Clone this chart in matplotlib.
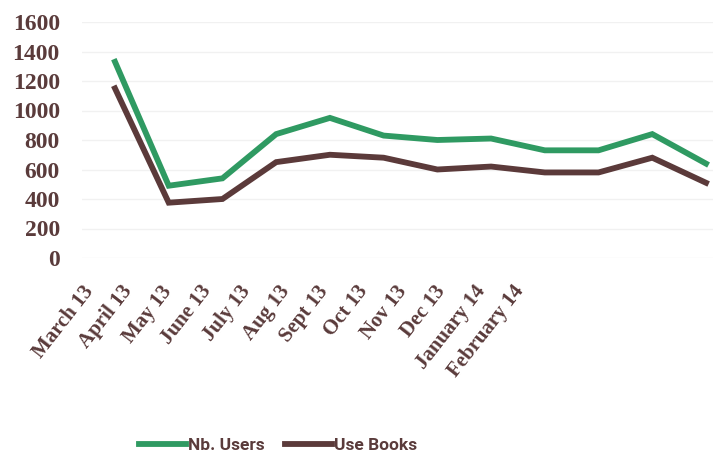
import matplotlib
matplotlib.use("Agg")
import matplotlib.pyplot as plt

months = ["March 13", "April 13", "May 13", "June 13", "July 13", "Aug 13",
          "Sept 13", "Oct 13", "Nov 13", "Dec 13", "January 14", "February 14"]
nb_users = [1330, 490, 540, 840, 950, 830, 800, 810, 730, 730, 840, 640]
use_books = [1150, 375, 400, 650, 700, 680, 600, 620, 580, 580, 680, 510]
yticks = [0, 200, 400, 600, 800, 1000, 1200, 1400, 1600]

TXT = "#5a3b3b"
GREEN = "#2f9a62"
BROWN = "#5b3a3a"

W, H = 713, 459
fig = plt.figure(figsize=(W / 100, H / 100), dpi=100)
L, R, T, B = 82, 713, 22, 258
ax = fig.add_axes([L / W, 1 - B / H, (R - L) / W, (B - T) / H])

x = list(range(len(months)))
ax.plot(x, nb_users, color=GREEN, lw=4.2, solid_joinstyle="miter", label="Nb. Users")
ax.plot(x, use_books, color=BROWN, lw=4.2, solid_joinstyle="miter", label="Use Books")

px = 53.73
ax.set_xlim(-(115 - L) / px, 11 + (R - 706) / px)
ax.set_ylim(0, 1600)
ax.set_yticks(yticks)
ax.set_yticklabels([str(v) for v in yticks], fontfamily="Liberation Serif",
                   fontweight="bold", fontsize=17, color=TXT)
ax.tick_params(axis="y", length=0, pad=16)
ax.yaxis.grid(True, color="#f1f1f1", lw=1)
ax.set_xticks([])
for s in ax.spines.values():
    s.set_visible(False)

# category labels on a twin axis (label positions are compressed in the reference)
ax2 = ax.twiny()
ax2.set_position(ax.get_position())
lpx = 39.4
x0 = 78
ax2.set_xlim((L - x0) / lpx, (R - x0) / lpx)
ax2.xaxis.set_ticks_position("bottom")
ax2.xaxis.set_label_position("bottom")
ax2.set_xticks(x)
ax2.set_xticklabels(months, rotation=52, ha="right", va="top", rotation_mode="anchor",
                    fontfamily="Liberation Serif", fontweight="bold", fontsize=15,
                    color=TXT)
ax2.tick_params(axis="x", length=0, pad=17)
for s in ax2.spines.values():
    s.set_visible(False)

leg = fig.legend(loc="center", bbox_to_anchor=(278 / W, 1 - 445 / H), ncol=2,
                 frameon=False, handlelength=2.7, columnspacing=1.2, handletextpad=0.1,
                 prop={"family": "Roboto", "weight": "bold", "size": 12.5})
for t in leg.get_texts():
    t.set_color(TXT)

fig.savefig("out.png", dpi=100)
